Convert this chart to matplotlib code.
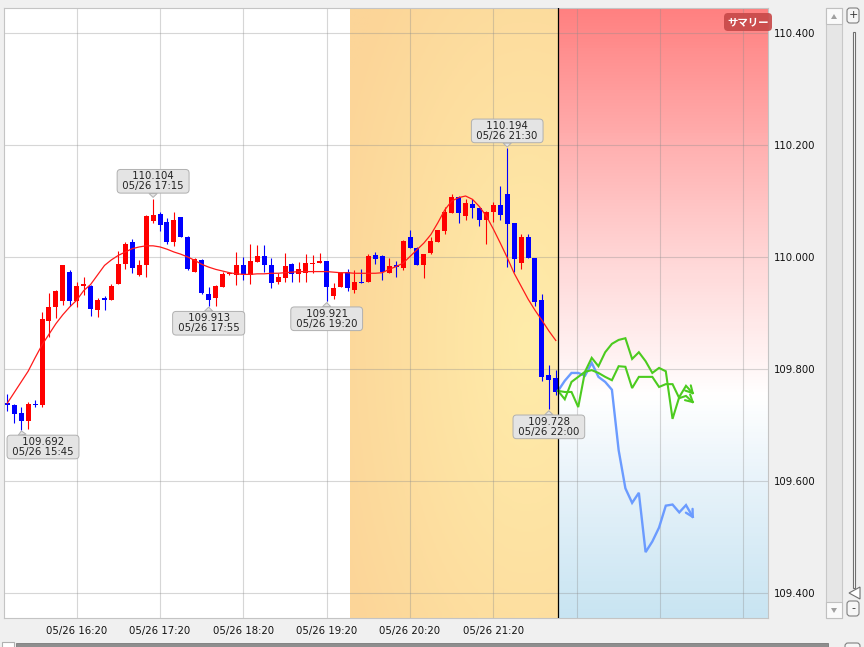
import numpy as np
import matplotlib
matplotlib.use('Agg')
import matplotlib.pyplot as plt
from matplotlib.patches import FancyBboxPatch, Polygon
from matplotlib.lines import Line2D
from matplotlib.transforms import IdentityTransform

# 5-minute candles, 05/26 15:30 .. 22:05 (80 bars)
opens = [109.739, 109.736, 109.722, 109.708, 109.738, 109.735, 109.886, 109.911, 109.922, 109.973,
         109.922, 109.949, 109.948, 109.905, 109.926, 109.924, 109.952, 109.988, 110.027, 109.968,
         109.986, 110.064, 110.077, 110.062, 110.026, 110.071, 110.036, 109.974, 109.995, 109.934,
         109.926, 109.947, 109.970, 109.968, 109.986, 109.968, 109.992, 110.002, 109.986, 109.955,
         109.963, 109.987, 109.969, 109.971, 109.987, 109.989, 109.993, 109.931, 109.947, 109.973,
         109.942, 109.956, 109.956, 110.004, 110.002, 109.972, 109.986, 109.981, 110.036, 110.017,
         109.985, 110.008, 110.027, 110.046, 110.079, 110.108, 110.074, 110.095, 110.087, 110.067,
         110.081, 110.093, 110.112, 110.060, 109.990, 110.036, 109.999, 109.923, 109.789, 109.784]
highs = [109.755, 109.737, 109.732, 109.741, 109.745, 109.902, 109.935, 109.942, 109.986, 109.977,
         109.956, 109.964, 109.950, 109.927, 109.930, 109.951, 110.011, 110.027, 110.032, 109.995,
         110.075, 110.104, 110.081, 110.069, 110.080, 110.072, 110.037, 109.998, 109.996, 109.947,
         109.950, 109.974, 109.974, 110.009, 110.000, 110.023, 110.021, 110.021, 109.999, 109.971,
         110.008, 109.989, 109.992, 110.005, 110.004, 110.007, 109.993, 109.954, 109.974, 109.978,
         109.977, 109.978, 110.005, 110.009, 110.004, 109.999, 109.993, 110.030, 110.049, 110.018,
         110.006, 110.035, 110.049, 110.090, 110.112, 110.109, 110.103, 110.104, 110.088, 110.082,
         110.099, 110.127, 110.194, 110.060, 110.042, 110.042, 109.999, 109.934, 109.807, 109.799]
lows = [109.725, 109.704, 109.692, 109.693, 109.732, 109.732, 109.858, 109.892, 109.915, 109.913,
        109.910, 109.932, 109.895, 109.893, 109.905, 109.924, 109.952, 109.978, 109.971, 109.966,
        109.964, 110.060, 110.046, 110.024, 110.020, 110.035, 109.977, 109.973, 109.934, 109.913,
        109.913, 109.946, 109.968, 109.950, 109.959, 109.952, 109.991, 109.974, 109.944, 109.952,
        109.956, 109.956, 109.955, 109.955, 109.972, 109.989, 109.921, 109.925, 109.947, 109.939,
        109.936, 109.953, 109.956, 109.987, 109.959, 109.972, 109.964, 109.977, 110.017, 109.985,
        109.962, 110.006, 110.026, 110.042, 110.079, 110.060, 110.067, 110.069, 110.055, 110.024,
        110.062, 110.067, 109.982, 109.974, 109.978, 109.999, 109.913, 109.778, 109.728, 109.754]
closes = [109.735, 109.720, 109.708, 109.737, 109.736, 109.890, 109.910, 109.939, 109.985, 109.922,
          109.948, 109.952, 109.908, 109.924, 109.924, 109.948, 109.988, 110.024, 109.981, 109.986,
          110.073, 110.075, 110.058, 110.026, 110.066, 110.036, 109.978, 109.996, 109.935, 109.924,
          109.948, 109.970, 109.972, 109.986, 109.970, 109.993, 110.002, 109.985, 109.953, 109.964,
          109.984, 109.969, 109.978, 109.990, 109.990, 109.993, 109.946, 109.945, 109.972, 109.944,
          109.955, 109.953, 110.002, 109.996, 109.974, 109.984, 109.982, 110.029, 110.017, 109.986,
          110.005, 110.029, 110.048, 110.081, 110.108, 110.078, 110.096, 110.088, 110.066, 110.081,
          110.093, 110.075, 110.059, 109.996, 110.036, 109.999, 109.920, 109.785, 109.780, 109.759]

# smoothed average line (red)
ma = [109.739, 109.758, 109.777, 109.796, 109.820, 109.843, 109.862, 109.881, 109.897, 109.911,
      109.923, 109.940, 109.951, 109.968, 109.985, 109.995, 110.003, 110.009, 110.015, 110.018,
      110.020, 110.020, 110.018, 110.014, 110.009, 110.005, 110.000, 109.994, 109.987, 109.982,
      109.978, 109.975, 109.972, 109.970, 109.969, 109.969, 109.970, 109.970, 109.971, 109.971,
      109.972, 109.973, 109.974, 109.974, 109.974, 109.974, 109.974, 109.973, 109.972, 109.972,
      109.971, 109.971, 109.971, 109.971, 109.972, 109.978, 109.983, 109.989, 110.001, 110.013,
      110.025, 110.040, 110.061, 110.084, 110.100, 110.106, 110.109, 110.103, 110.090, 110.073,
      110.050, 110.025, 109.999, 109.971, 109.948, 109.925, 109.905, 109.887, 109.868, 109.851]

# forecast paths drawn after the last candle
fc_blue = [109.761, 109.779, 109.793, 109.793, 109.788, 109.811, 109.786, 109.777, 109.763, 109.655,
           109.587, 109.561, 109.579, 109.473, 109.492, 109.517, 109.556, 109.558, 109.544, 109.557, 109.536]
fc_green_a = [109.761, 109.746, 109.777, 109.786, 109.795, 109.820, 109.805, 109.830, 109.845, 109.852,
              109.855, 109.818, 109.830, 109.814, 109.793, 109.802, 109.796, 109.711, 109.750, 109.770, 109.757]
fc_green_b = [109.761, 109.759, 109.759, 109.732, 109.795, 109.798, 109.793, 109.786, 109.780, 109.805,
              109.804, 109.766, 109.786, 109.786, 109.786, 109.768, 109.773, 109.773, 109.748, 109.752, 109.741]

time_labels = ['05/26 16:20', '05/26 17:20', '05/26 18:20', '05/26 19:20', '05/26 20:20', '05/26 21:20']
price_ticks = [109.4, 109.6, 109.8, 110.0, 110.2, 110.4]

# high / low callouts: candle index, side, price, time
callouts = [(2, 'low', 109.692, '05/26 15:45'),
            (21, 'high', 110.104, '05/26 17:15'),
            (29, 'low', 109.913, '05/26 17:55'),
            (46, 'low', 109.921, '05/26 19:20'),
            (72, 'high', 110.194, '05/26 21:30'),
            (78, 'low', 109.728, '05/26 22:00')]

W, H = 864, 647
fig = plt.figure(figsize=(W / 100, H / 100), dpi=100, facecolor='#f0f0f0')
ax = fig.add_axes([4 / W, 1 - 618 / H, 764 / W, 610 / H])

xmin, xmax = -0.475, 109.56
ymin, ymax = 109.3554, 110.4447
zone_start, now_x = 49.36, 79.32
ax.set_xlim(xmin, xmax)
ax.set_ylim(ymin, ymax)

# orange "recent" zone
nx, ny = 80, 80
u = np.linspace(0, 1, nx)[None, :]
v = np.linspace(0, 1, ny)[:, None]
t = np.clip(np.sqrt(((u - 0.85) / 1.0) ** 2 + ((v - 0.45) / 0.8) ** 2), 0, 1)
light = np.array([255, 236, 170]) / 255
dark = np.array([252, 213, 152]) / 255
orange = light + t[..., None] * (dark - light)
ax.imshow(orange, extent=(zone_start, now_x, ymin, ymax), origin='lower', aspect='auto', zorder=0)

# forecast zone: red at top -> white -> light blue at bottom
stops_p = [109.355, 109.6, 109.75, 109.8, 110.0, 110.2, 110.445]
stops_c = np.array([[200, 228, 242], [232, 243, 250], [255, 255, 255], [255, 246, 246],
                    [255, 214, 214], [255, 176, 176], [255, 128, 128]]) / 255
py = np.linspace(ymin, ymax, 200)
grad = np.stack([np.interp(py, stops_p, stops_c[:, k]) for k in range(3)], axis=1)
ax.imshow(grad[:, None, :], extent=(now_x, xmax, ymin, ymax), origin='lower', aspect='auto', zorder=0)
ax.set_xlim(xmin, xmax)
ax.set_ylim(ymin, ymax)

# candles
idx = np.arange(len(opens))
o, h, l, c = map(np.array, (opens, highs, lows, closes))
cols = np.where(c >= o, '#ff0000', '#0000ff')
ax.vlines(idx, l, h, colors=cols, lw=0.8, zorder=2)
body_lo = np.minimum(o, c)
body_h = np.maximum(np.abs(c - o), 0.0018)
ax.bar(idx, body_h, bottom=body_lo, width=0.72, color=cols, linewidth=0, zorder=2.1)

ax.plot(idx, ma, color='#ff1a1a', lw=0.9, zorder=3)

# forecasts with open "V" arrow heads (arms built in screen pixels)
fc_x = now_x + 0.97 * np.arange(len(fc_blue))
for vals, col, lw in [(fc_blue, '#6b9bff', 1.7), (fc_green_a, '#4ccb1f', 1.5), (fc_green_b, '#4ccb1f', 1.5)]:
    ax.plot(fc_x, vals, color=col, lw=lw, zorder=3, solid_joinstyle='miter')
    p1 = ax.transData.transform((fc_x[-2], vals[-2]))
    p2 = ax.transData.transform((fc_x[-1], vals[-1]))
    d = (p2 - p1) / np.hypot(*(p2 - p1))
    for ang in (0.5, -0.5):
        rot = np.array([[np.cos(ang), -np.sin(ang)], [np.sin(ang), np.cos(ang)]])
        arm = p2 - 8 * rot @ d
        ax.add_line(Line2D([p2[0], arm[0]], [p2[1], arm[1]], transform=IdentityTransform(),
                           color=col, lw=lw, zorder=3, solid_capstyle='round'))

ax.axvline(now_x, color='black', lw=0.9, zorder=4)

# grid, ticks
grid_x = list(range(10, 110, 12))
ax.set_xticks(grid_x)
ax.set_xticklabels(time_labels + [''] * (len(grid_x) - len(time_labels)))
ax.set_yticks(price_ticks)
ax.set_yticklabels(['%.3f' % p for p in price_ticks])
ax.yaxis.tick_right()
ax.set_axisbelow(True)
ax.grid(True, color='#8c8c8c', alpha=0.35, lw=0.8)
ax.tick_params(axis='both', length=0, labelsize=7.3, colors='#111111')
ax.tick_params(axis='y', pad=4)
ax.tick_params(axis='x', pad=6)
for s in ax.spines.values():
    s.set_color('#c4c4c4')
    s.set_linewidth(0.8)

# callouts
half_w = 36
for i, side, price, when in callouts:
    px = ax.transData.transform((i, price))[0]
    shift = max(0, (4 + 3 + half_w) - px)
    dy = -12.6 if side == 'low' else 12.6
    rel = (0.5 - shift / (2 * half_w), 1.0 if side == 'low' else 0.0)
    ax.annotate(' %.3f \n %s ' % (price, when), xy=(i, price), xytext=(shift * 0.72, dy),
                textcoords='offset points', ha='center', va='center', fontsize=7.3,
                linespacing=0.95, color='#222222', zorder=6,
                bbox=dict(boxstyle='round,pad=0.2,rounding_size=0.35', fc='#e4e4e4', ec='#b0b0b0', lw=0.7),
                arrowprops=dict(arrowstyle='wedge,tail_width=0.8', fc='#e4e4e4', ec='#b0b0b0', lw=0.7,
                                shrinkA=0, shrinkB=1, relpos=rel))

# window chrome (screen pixels, origin top-left)
def chrome(x, y, w, h, **kw):
    p = FancyBboxPatch((x, H - y - h), w, h, transform=IdentityTransform(), **kw)
    fig.patches.append(p)
    return p

def tri(pts, **kw):
    fig.patches.append(Polygon([(a, H - b) for a, b in pts], closed=True,
                               transform=IdentityTransform(), **kw))

chrome(724, 13, 48, 18, boxstyle='round,pad=0,rounding_size=4', fc='#c84a4a', ec='none', alpha=0.92)
fig.text(748 / W, 1 - 22.5 / H, 'サマリー', color='white', fontsize=7.5, fontweight='bold',
         family=['Noto Sans CJK JP', 'DejaVu Sans'], ha='center', va='center')

# vertical scrollbar
chrome(826, 8, 16, 610, boxstyle='square,pad=0', fc='#e6e6e6', ec='#c8c8c8', lw=0.8)
chrome(826, 8, 16, 16, boxstyle='square,pad=0', fc='#fafafa', ec='#c0c0c0', lw=0.8)
chrome(826, 602, 16, 16, boxstyle='square,pad=0', fc='#fafafa', ec='#c0c0c0', lw=0.8)
tri([(831, 19), (837, 19), (834, 14)], fc='#a0a0a0', ec='none')
tri([(831, 608), (837, 608), (834, 613)], fc='#a0a0a0', ec='none')
# zoom buttons and slider
chrome(847, 8, 12, 15, boxstyle='round,pad=0,rounding_size=3', fc='#f6f6f6', ec='#808080', lw=0.8)
chrome(847, 601, 12, 15, boxstyle='round,pad=0,rounding_size=3', fc='#f6f6f6', ec='#808080', lw=0.8)
fig.text(853 / W, 1 - 15.5 / H, '+', fontsize=8, ha='center', va='center', color='#333333')
fig.text(853 / W, 1 - 608 / H, '-', fontsize=8, ha='center', va='center', color='#333333')
chrome(852.5, 32, 2.5, 556, boxstyle='square,pad=0', fc='#ffffff', ec='#707070', lw=0.8)
tri([(849, 593), (860, 587), (860, 599)], fc='#ffffff', ec='#707070', lw=0.8)
# bottom horizontal scrollbar
chrome(2, 642, 12, 8, boxstyle='square,pad=0', fc='#ffffff', ec='#b0b0b0', lw=0.8)
chrome(16, 643, 812, 6, boxstyle='square,pad=0', fc='#8e8e8e', ec='#7a7a7a', lw=0.6)
chrome(845, 643, 15, 8, boxstyle='round,pad=0,rounding_size=3', fc='#f6f6f6', ec='#808080', lw=0.8)

fig.savefig('out.png', dpi=100, facecolor=fig.get_facecolor())
